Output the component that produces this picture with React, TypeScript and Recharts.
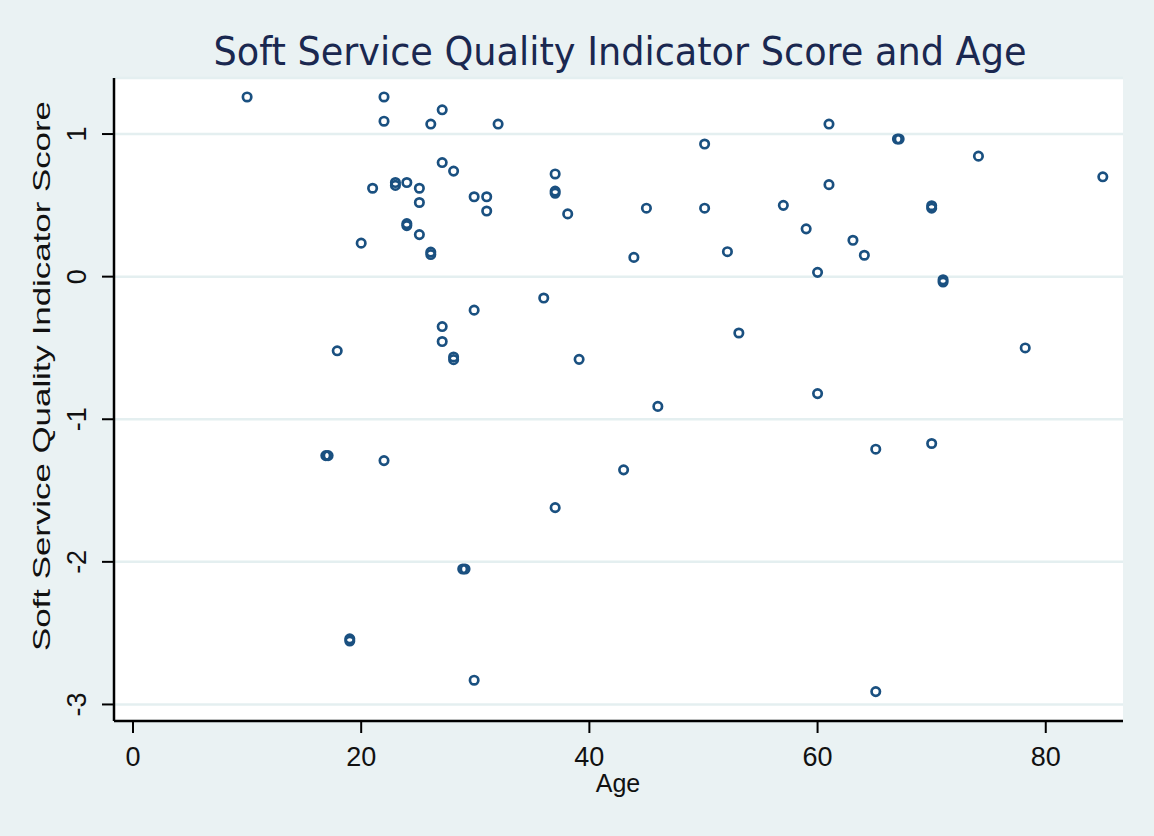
import React from "react"
import {
    ScatterChart,
    Scatter,
    XAxis,
    YAxis,
    CartesianGrid,
} from "recharts"

// values
const ages = [
    10, 22, 22, 27.1, 26.1, 32, 27.1, 28.1, 21, 23, 23, 24, 25.1, 25.1,
    29.9, 31, 31, 37, 37, 37, 38.1, 24, 24, 25.1, 20, 26.1, 26.1, 36, 29.9,
    27.1, 27.1, 17.9, 28.1, 28.1, 39.1, 61, 67, 67.15, 50.1, 74.1, 85, 61,
    45, 50.1, 57, 70, 70, 59, 63.1, 64.1, 43.9, 52.1, 60, 71, 71, 53.1, 78.2,
    60, 16.9, 17.1, 22, 37, 28.9, 29.1, 19, 19, 29.9, 43, 46, 65.1, 70, 65.1,
]

const scores = [
    1.26, 1.26, 1.09, 1.17, 1.07, 1.07, 0.8, 0.74, 0.62, 0.66, 0.64, 0.66,
    0.62, 0.52, 0.56, 0.56, 0.46, 0.72, 0.6, 0.585, 0.44, 0.372, 0.358, 0.295,
    0.235, 0.172, 0.155, -0.15, -0.235, -0.35, -0.455, -0.52, -0.563, -0.582,
    -0.58, 1.07, 0.965, 0.965, 0.93, 0.845, 0.7, 0.645, 0.48, 0.48, 0.5, 0.497,
    0.48, 0.335, 0.255, 0.15, 0.135, 0.175, 0.03, -0.022, -0.038, -0.395, -0.5,
    -0.82, -1.255, -1.255, -1.29, -1.62, -2.05, -2.05, -2.54, -2.555, -2.83,
    -1.355, -0.91, -1.21, -1.17, -2.91,
]

const xTicks = [0, 20, 40, 60, 80]
const yTicks = [-3, -2, -1, 0, 1]

const data = ages.map((age, i) => ({ age, score: scores[i] }))

const font = "'Liberation Sans', Arial, sans-serif"

function Ring(props: any) {
    return (
        <circle
            cx={props.cx}
            cy={props.cy}
            r={4.2}
            fill="none"
            stroke="#1a5080"
            strokeWidth={2.7}
        />
    )
}

function XTick(props: any) {
    return (
        <text
            x={props.x}
            y={props.y + 31}
            textAnchor="middle"
            fontFamily={font}
            fontSize={27}
            fill="#111"
        >
            {props.payload.value}
        </text>
    )
}

function YTick(props: any) {
    const x = props.x - 14
    return (
        <text
            x={x}
            y={props.y}
            transform={`rotate(-90 ${x} ${props.y})`}
            textAnchor="middle"
            fontFamily={font}
            fontSize={27}
            fill="#111"
        >
            {props.payload.value}
        </text>
    )
}

export default function App() {
    return (
        <div
            style={{
                position: "absolute",
                left: 0,
                top: 0,
                width: 1154,
                height: 836,
                background: "#eaf2f3",
            }}
        >
            <ScatterChart
                width={1154}
                height={836}
                margin={{ top: 78, right: 31, bottom: 55, left: 0 }}
            >
                <CartesianGrid
                    vertical={false}
                    fill="#ffffff"
                    stroke="#e4eff0"
                    strokeWidth={2.5}
                />
                <XAxis
                    dataKey="age"
                    type="number"
                    domain={[-1.665, 86.77]}
                    ticks={xTicks}
                    allowDataOverflow
                    height={60}
                    tickSize={12}
                    axisLine={{ stroke: "#000", strokeWidth: 2.5 }}
                    tickLine={{ stroke: "#000", strokeWidth: 2 }}
                    tick={<XTick />}
                />
                <YAxis
                    dataKey="score"
                    type="number"
                    domain={[-3.116, 1.393]}
                    ticks={yTicks}
                    allowDataOverflow
                    width={114}
                    tickSize={12}
                    axisLine={{ stroke: "#000", strokeWidth: 2.5 }}
                    tickLine={{ stroke: "#000", strokeWidth: 2 }}
                    tick={<YTick />}
                />
                <Scatter
                    data={data}
                    shape={<Ring />}
                    isAnimationActive={false}
                />
            </ScatterChart>
            <svg
                width={1154}
                height={836}
                style={{ position: "absolute", left: 0, top: 0, pointerEvents: "none" }}
            >
                <text
                    x={620}
                    y={65}
                    textAnchor="middle"
                    fontFamily="'DejaVu Sans Condensed', 'DejaVu Sans', sans-serif"
                    fontSize={39}
                    fill="#1a2850"
                    textLength={813}
                    lengthAdjust="spacingAndGlyphs"
                >
                    Soft Service Quality Indicator Score and Age
                </text>
                <text
                    x={618}
                    y={792}
                    textAnchor="middle"
                    fontFamily={font}
                    fontSize={25}
                    fill="#111"
                >
                    Age
                </text>
                <text
                    x={50}
                    y={376}
                    transform="rotate(-90 50 376)"
                    textAnchor="middle"
                    fontFamily={font}
                    fontSize={24}
                    fill="#111"
                    textLength={550}
                    lengthAdjust="spacingAndGlyphs"
                >
                    Soft Service Quality Indicator Score
                </text>
            </svg>
        </div>
    )
}
